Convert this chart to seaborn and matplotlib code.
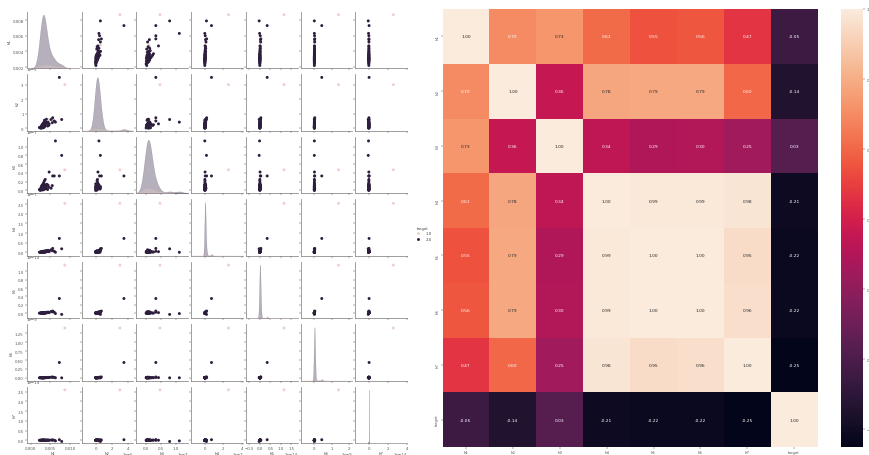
import numpy as np
import pandas as pd
import matplotlib
matplotlib.use('Agg')
import matplotlib.pyplot as plt
import seaborn as sns
import warnings
warnings.filterwarnings('ignore')

names = ['h1', 'h2', 'h3', 'h4', 'h5', 'h6', 'h7', 'target']

# one entry per sample, the first five are target 1.0 so the dark ones are drawn on top
h1 = [0.0087, 0.0048, 0.0036, 0.0030, 0.0042,
      0.0022, 0.0024, 0.0025, 0.0026, 0.0027, 0.0027, 0.0028, 0.0028, 0.0029, 0.0029, 0.0030, 0.0030, 0.0030,
      0.0031, 0.0031, 0.0031, 0.0032, 0.0032, 0.0032, 0.0033, 0.0033, 0.0034, 0.0034, 0.0035, 0.0035, 0.0036,
      0.0036, 0.0037, 0.0038, 0.0039, 0.0040, 0.0041, 0.0043, 0.0044, 0.0046, 0.0047, 0.0052, 0.0055, 0.0056,
      0.0060, 0.0073, 0.0063, 0.0079]
h2 = [3.00, 0.60, 0.25, 0.10, 0.30,
      0.05, 0.02, 0.08, 0.03, 0.12, 0.00, 0.10, 0.18, 0.06, 0.22, 0.04, 0.14, 0.25,
      0.09, 0.20, 0.30, 0.03, 0.16, 0.35, 0.11, 0.26, 0.07, 0.40, 0.19, 0.55, 0.13,
      0.32, 0.24, 0.45, 0.28, 0.62, 0.36, 0.15, 0.42, 0.20, 0.30, 0.60, 0.38, 0.72,
      0.50, 3.50, 0.42, 0.60]
h3 = [0.47, 0.10, 0.05, 0.03, 0.08,
      0.02, 0.00, 0.03, 0.06, 0.01, 0.09, 0.04, 0.02, 0.07, 0.12, 0.03, 0.10, 0.05,
      0.13, 0.01, 0.08, 0.15, 0.04, 0.11, 0.02, 0.18, 0.06, 0.09, 0.22, 0.03, 0.13,
      0.05, 0.25, 0.10, 0.04, 0.08, 0.14, 0.02, 0.12, 0.07, 0.42, 0.05, 0.11, 0.33,
      0.33, 0.33, 1.13, 0.80]
h4 = [2.55, 0.05, 0.02, 0.01, 0.03,
      0.00, 0.01, 0.00, 0.02, 0.01, 0.00, 0.03, 0.01, 0.02, 0.00, 0.01, 0.04, 0.02,
      0.00, 0.03, 0.01, 0.05, 0.02, 0.00, 0.04, 0.01, 0.03, 0.06, 0.02, 0.00, 0.05,
      0.03, 0.01, 0.07, 0.02, 0.09, 0.04, 0.06, 0.10, 0.08, 0.03, 0.13, 0.08, 0.20,
      0.05, 0.72, 0.00, 0.18]
h5 = [1.150, 0.020, 0.005, 0.002, 0.008,
      0.000, 0.002, 0.001, 0.004, 0.000, 0.003, 0.002, 0.005, 0.001, 0.003, 0.000, 0.006, 0.002,
      0.004, 0.001, 0.003, 0.007, 0.002, 0.005, 0.000, 0.008, 0.003, 0.006, 0.001, 0.010, 0.004,
      0.007, 0.002, 0.012, 0.005, 0.020, 0.009, 0.015, 0.025, 0.018, 0.012, 0.040, 0.030, 0.050,
      0.022, 0.350, -0.010, -0.030]
h6 = [1.400, 0.010, 0.003, 0.001, 0.004,
      0.000, 0.001, 0.000, 0.002, 0.001, 0.000, 0.001, 0.003, 0.000, 0.002, 0.001, 0.000, 0.004,
      0.001, 0.002, 0.000, 0.003, 0.001, 0.005, 0.002, 0.000, 0.004, 0.001, 0.006, 0.002, 0.003,
      0.005, 0.001, 0.007, 0.004, 0.010, 0.006, 0.008, 0.012, 0.009, 0.005, 0.018, 0.012, 0.022,
      0.010, 0.430, 0.000, -0.002]
h7 = [2.600, 0.006, 0.002, 0.001, 0.003,
      0.000, 0.001, 0.000, 0.002, 0.000, 0.001, 0.003, 0.000, 0.002, 0.001, 0.000, 0.002, 0.004,
      0.001, 0.000, 0.003, 0.001, 0.005, 0.002, 0.000, 0.004, 0.001, 0.003, 0.006, 0.002, 0.000,
      0.004, 0.007, 0.001, 0.005, 0.008, 0.003, 0.006, 0.010, 0.004, 0.002, 0.012, 0.009, 0.014,
      0.006, 0.030, -0.030, -0.060]
target = [1.0] * 5 + [2.0] * 43

corr = [[1.00, 0.70, 0.73, 0.61, 0.55, 0.56, 0.47, -0.05],
        [0.70, 1.00, 0.36, 0.78, 0.79, 0.79, 0.60, -0.14],
        [0.73, 0.36, 1.00, 0.34, 0.29, 0.30, 0.25, 0.03],
        [0.61, 0.78, 0.34, 1.00, 0.99, 0.99, 0.98, -0.21],
        [0.55, 0.79, 0.29, 0.99, 1.00, 1.00, 0.95, -0.22],
        [0.56, 0.79, 0.30, 0.99, 1.00, 1.00, 0.96, -0.22],
        [0.47, 0.60, 0.25, 0.98, 0.95, 0.96, 1.00, -0.25],
        [-0.05, -0.14, 0.03, -0.21, -0.22, -0.22, -0.25, 1.00]]

W, H = 869, 456
grey = '#777777'
plt.rcParams.update({'font.size': 2.8, 'axes.labelsize': 2.8, 'xtick.labelsize': 2.8, 'ytick.labelsize': 2.8,
                     'axes.linewidth': 0.5, 'xtick.major.width': 0.35, 'ytick.major.width': 0.35,
                     'xtick.major.size': 1.2, 'ytick.major.size': 1.2, 'xtick.major.pad': 1.2, 'ytick.major.pad': 1.2,
                     'axes.labelpad': 0.8, 'axes.edgecolor': grey, 'xtick.color': '#555555', 'ytick.color': '#555555',
                     'xtick.labelcolor': '#555555', 'text.color': '#444444', 'axes.labelcolor': '#444444'})

df = pd.DataFrame({'h1': h1, 'h2': np.array(h2) * 1e-5, 'h3': np.array(h3) * 1e-7, 'h4': np.array(h4) * 1e-7,
                   'h5': np.array(h5) * 1e-14, 'h6': np.array(h6) * 1e-9, 'h7': np.array(h7) * 1e-14,
                   'target': target})

g = sns.pairplot(df, vars=names[:-1], hue='target', diag_kind='kde', height=0.6,
                 plot_kws={'s': 4.5, 'linewidth': 0}, diag_kws={'linewidth': 0.25, 'bw_adjust': 1.2})
g.figure.set_size_inches(W / 100, H / 100)
g.figure.subplots_adjust(left=27 / W, right=407 / W, top=1 - 13 / H, bottom=1 - 444 / H, wspace=0.058, hspace=0.115)

xlims = [(-0.00096, 0.01225), (-1.7e-5, 4.67e-5), (-0.33e-7, 1.43e-7), (-1.47e-7, 4.1e-7),
         (-0.66e-14, 1.79e-14), (-0.8e-9, 2.2e-9), (-1.43e-14, 4.04e-14)]
ylims = [(0.00187, 0.00904), (-0.16e-5, 3.7e-5), (-0.06e-7, 1.22e-7), (-0.17e-7, 2.75e-7),
         (-0.117e-14, 1.225e-14), (-0.077e-9, 1.5e-9), (-0.14e-14, 2.75e-14)]
xticks = [[0.0, 0.005, 0.01], [0, 2e-5, 4e-5], [0, 0.5e-7, 1e-7], [0, 2e-7, 4e-7],
          [-0.5e-14, 0, 0.5e-14, 1e-14, 1.5e-14], [0, 1e-9, 2e-9], [0, 2e-14, 4e-14]]
yticks = [[0.002, 0.004, 0.006, 0.008], [0, 1e-5, 2e-5, 3e-5], np.arange(6) * 0.2e-7, np.arange(6) * 0.5e-7,
          np.arange(6) * 0.2e-14, np.arange(6) * 0.25e-9, np.arange(6) * 0.5e-14]
for i in range(7):
    ax = g.axes[6, i]
    ax.set_xlim(xlims[i])
    ax.set_xticks(xticks[i])
    ax = g.axes[i, 1 if i == 0 else 0]
    ax.set_ylim(ylims[i])
    ax.set_yticks(yticks[i])
for ax in g.axes.flat:
    ax.xaxis.get_offset_text().set_fontsize(2.8)
    ax.yaxis.get_offset_text().set_fontsize(2.8)
    ax.xaxis.OFFSETTEXTPAD = 1.2
g.axes[0, 0].set_ylabel('h1')

# kde curves read as soft grey in the reference
for ax in g.diag_axes:
    for c in ax.collections:
        c.set_alpha(0.35)
    for l in ax.lines:
        l.set_alpha(0.5)

sns.move_legend(g, 'center left', bbox_to_anchor=(411 / W, 1 - 234.5 / H), title='target', fontsize=2.8,
                title_fontsize=2.8, frameon=False, markerscale=1)

# heatmap on the right part of the same figure
ax2 = g.figure.add_axes([442.5 / W, 1 - 448 / H, 375.2 / W, 438 / H])
cax = g.figure.add_axes([840.7 / W, 1 - 448 / H, 22.6 / W, 438 / H])
sns.heatmap(np.array(corr), annot=True, fmt='.2f', annot_kws={'size': 3.2}, xticklabels=names, yticklabels=names,
            ax=ax2, cbar_ax=cax)
ax2.tick_params(length=1.2, width=0.35, labelsize=2.8)
cax.tick_params(length=1.2, width=0.35, labelsize=3, pad=1)

plt.savefig('out.png', dpi=100)
